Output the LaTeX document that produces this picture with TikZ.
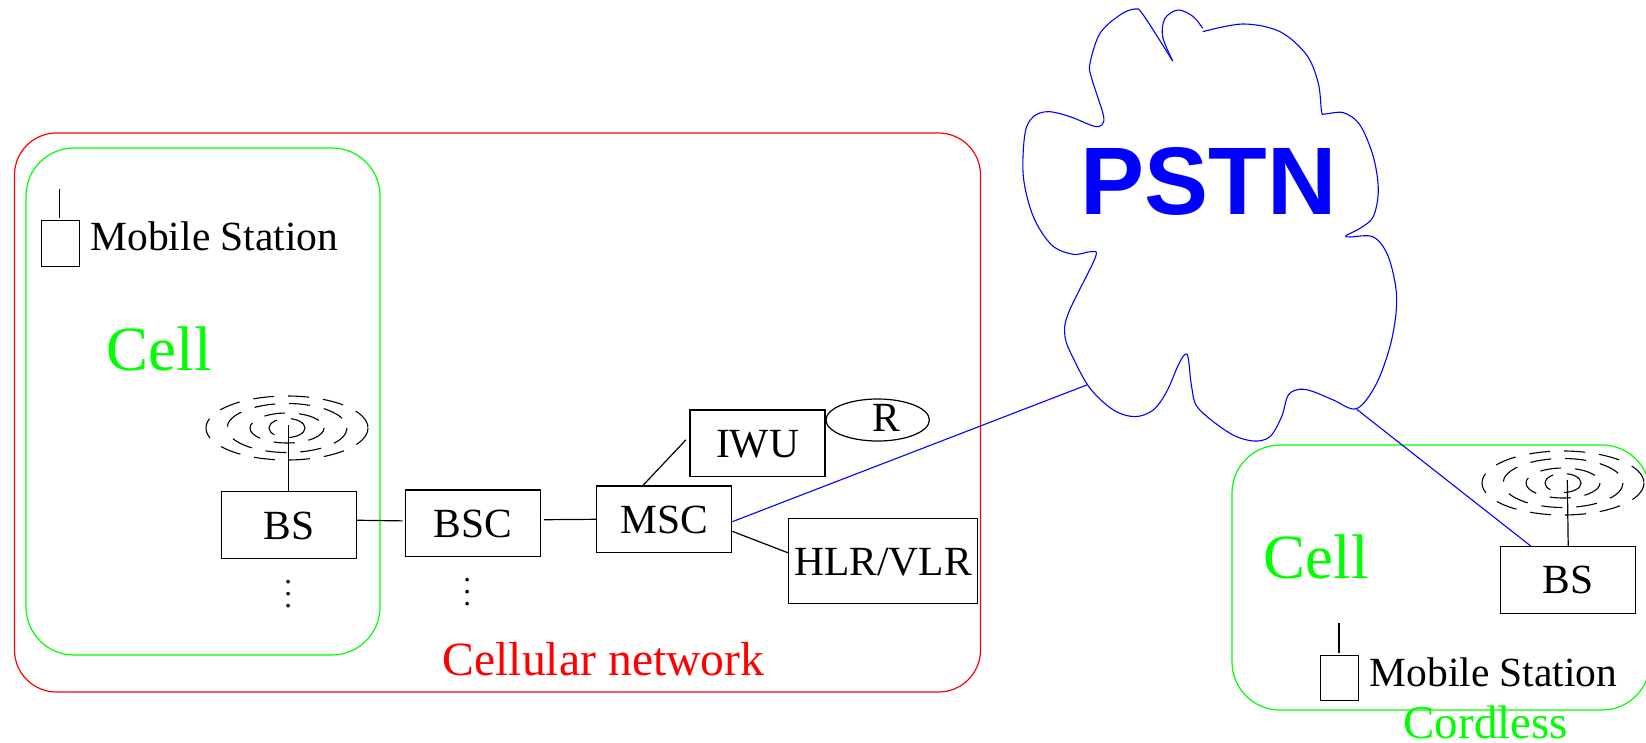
\documentclass[tikz,border=0pt]{standalone}
\usepackage{fontspec}
\setmainfont{Liberation Serif}
\setsansfont{Liberation Sans}
\usetikzlibrary{arrows,shapes.geometric}

\begin{document}
\begin{tikzpicture}[x=1pt,y=-1pt,line width=1.2pt,
    box node/.style={rectangle,draw,inner sep=0pt,minimum width=135pt,minimum height=66.7pt,
        text height=28pt,text depth=0pt,font=\fontsize{41.5}{48}\selectfont},
    frame node/.style={rectangle,draw,inner sep=0pt,rounded corners=48pt},
    label node/.style={inner sep=0pt,anchor=base,font=\fontsize{41.5}{48}\selectfont},
    wave/.style={dash pattern=on 21pt off 14pt,line width=1.1pt},
    link/.style={draw=blue,line width=1.1pt}]
    \useasboundingbox (0,0) rectangle (1646,742);
    \node[frame node,draw=red,rounded corners=42pt,minimum width=966pt,minimum height=559pt] (network) at (497.5,412.5) {};
    \node[frame node,draw=green,minimum width=354pt,minimum height=507pt] (cell1) at (203,401.5) {};
    \node[frame node,draw=green,minimum width=418pt,minimum height=265pt] (cell2) at (1441,577.5) {};
    \node[box node] (bs1) at (288.7,525) {BS};
    \node[box node] (bsc) [right of=bs1,node distance=184.5pt,yshift=1.7pt] {BSC};
    \node[box node] (msc) [right of=bsc,node distance=191pt,yshift=4pt] {MSC};
    \node[box node] (iwu) [right of=msc,node distance=93.3pt,yshift=76pt] {IWU};
    \node[box node,minimum width=189.4pt,minimum height=84.3pt] (hlr) at (883,561) {HLR/VLR};
    \node[box node] (bs2) at (1568.2,579.8) {BS};
    \node[ellipse,draw,minimum width=103.4pt,minimum height=42pt,inner sep=0pt] (r) at (877.7,420) {};
    \node[label node] (rlabel) at (886.7,431.7) {R};
    % mobile stations
    \node[rectangle,draw,minimum width=38.4pt,minimum height=46pt,inner sep=0pt] (ms1) at (60.5,243.7) {};
    \node[rectangle,draw,minimum width=38pt,minimum height=45.4pt,inner sep=0pt] (ms2) at (1339.7,678) {};
    \node[label node,anchor=base west] (ms1label) at (90,250.7) {Mobile Station};
    \node[label node,anchor=base west] (ms2label) at (1369,686) {Mobile Station};
    \coordinate (ms1tip) at (59.7,189);
    \coordinate (ms2tip) at (1339,623.3);
    \draw[shorten <=2pt] (ms1.north -| ms1tip) -- (ms1tip);
    \draw[shorten <=2pt] (ms2.north -| ms2tip) -- (ms2tip);
    % texts
    \node[label node,anchor=base west,text=green,font=\fontsize{63}{70}\selectfont] (cell1label) at (106,370) {Cell};
    \node[label node,anchor=base west,text=green,font=\fontsize{63}{70}\selectfont] (cell2label) at (1263,578) {Cell};
    \node[label node,anchor=base west,text=red,font=\fontsize{47.7}{54}\selectfont] (netlabel) at (442,675) {Cellular network};
    \node[label node,anchor=base west,text=green,font=\fontsize{47}{54}\selectfont] (cordless) at (1403,738) {Cordless};
    \node[label node,text=blue,font=\sffamily\bfseries\fontsize{96}{100}\selectfont] (pstn) at (1208.7,214) {PSTN};
    % dots
    \node[inner sep=0pt,scale=3.08] (dots1) at (288.3,585) {$\vdots$};
    \node[inner sep=0pt,scale=3.08] (dots2) at (467.3,583) {$\vdots$};
    % antennas
    \coordinate (wave1) at (287,428);
    \coordinate (wave2) at (1563,483);
    \foreach \c in {wave1,wave2}
        \foreach \rx/\ry in {81/32,60/24.5,37/15,18/9.5}
            \draw[wave] (\c) ellipse [x radius=\rx,y radius=\ry];
    \coordinate (tip1) at (288.7,425);
    \coordinate (tip2) at (1567.3,480);
    \draw (bs1.north) -- (tip1);
    \draw (bs2.north) -- (tip2);
    % cloud
    \begin{scope}[shift={(980,0)},x=0.3333pt,y=-0.3333pt]
    \draw[link] plot[smooth,tension=0.55] coordinates {(668,95) (790,72) (900,95) (980,165)
        (1015,250) (1025,335) (1035,342) (1090,338) (1140,375) (1180,470) (1195,570) (1180,650)
        (1140,685) (1098,707) (1110,711) (1180,711) (1225,770) (1250,890) (1235,1020) (1190,1150)
        (1130,1226) (1060,1200) (1000,1175) (960,1168) (925,1185) (905,1250) (870,1310) (820,1323)
        (750,1300) (655,1225) (635,1160) (625,1075) (615,1063) (595,1095) (560,1175) (520,1230)
        (465,1250) (400,1230) (330,1165) (280,1075) (255,1010) (265,940) (345,775) (335,755)
        (280,763) (215,735) (160,650) (130,530) (135,400) (160,350) (205,335) (270,350)
        (340,378) (365,375) (370,345) (335,235) (330,190) (360,100) (420,45) (465,27)
        (490,45) (578,183)};
    \draw[link] plot[smooth,tension=0.55] coordinates {(578,183) (548,110) (555,55) (595,30) (640,50) (668,85)};
    \end{scope}
    \coordinate (cloudwest) at (1086.7,385);
    \coordinate (cloudsouth) at (1356.7,409.3);
    % connectors
    \path
    (bs1.4) edge [shorten >=2.5pt] (bsc.178)
    (bsc.3.6) edge [shorten <=2.5pt] (msc.west)
    (msc.122) edge [shorten >=5pt] (iwu.174)
    (msc.-10) edge (hlr.175);
    \path[link]
    (msc.-2) edge (cloudwest)
    (cloudsouth) edge (bs2.138);
    \end{tikzpicture}
\end{document}
